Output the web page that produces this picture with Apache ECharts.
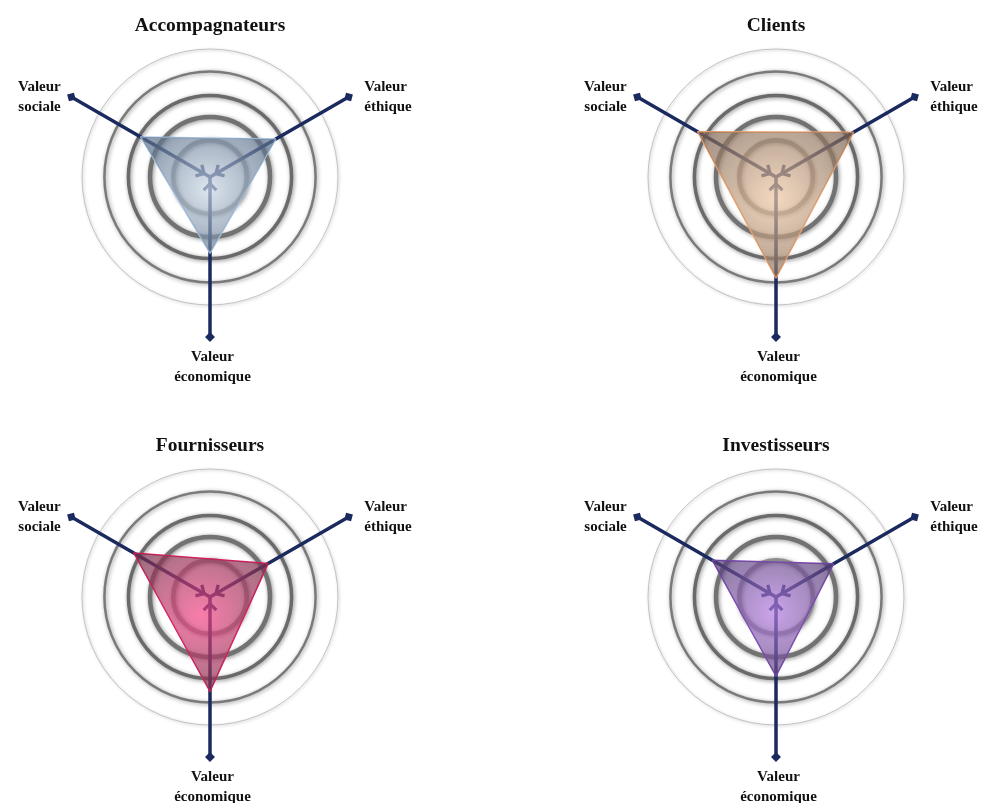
<!DOCTYPE html>
<html><head><meta charset="utf-8">
<script src="https://cdn.jsdelivr.net/npm/echarts@6/dist/echarts.min.js"></script>
<style>html,body{margin:0;padding:0;background:#fff}#c{width:983px;height:803px}</style>
</head><body><div id="c"></div>
<script>
// ---- data ----
const titles = ['Accompagnateurs', 'Clients', 'Fournisseurs', 'Investisseurs'];
const indicatorNames = ['Valeur\néthique', 'Valeur\nsociale', 'Valeur\néconomique'];
const valeurEthique    = [4.75, 5.6, 4.2, 4.15];
const valeurSociale    = [5.0, 5.65, 5.5, 4.6];
const valeurEconomique = [4.75, 6.3, 5.9, 4.95];
const axisMax = 10;
const ringLevels = [2.3, 3.75, 5.1, 6.6, 8.0];

// ---- layout & style ----
const centers = [[210, 177], [776, 177], [210, 597], [776, 597]];
const R = 160;
const navy = '#1b2a5e';
const serif = '"Liberation Serif", "DejaVu Serif", serif';
const palettes = [
  {stroke: '#a9c6e6', inner: 'rgba(205,218,232,0.7)', outer: 'rgba(95,115,140,0.7)'},
  {stroke: '#f4a46c', inner: 'rgba(238,200,165,0.7)', outer: 'rgba(130,105,85,0.7)'},
  {stroke: '#e3175b', inner: 'rgba(245,70,135,0.7)', outer: 'rgba(120,50,75,0.7)'},
  {stroke: '#7a46b4', inner: 'rgba(180,125,225,0.7)', outer: 'rgba(90,65,120,0.7)'}
];
const ringStyles = [
  {stroke: '#8c8c8c', lineWidth: 4.5, shadowBlur: 4, shadowColor: 'rgba(0,0,0,0.45)'},
  {stroke: '#727272', lineWidth: 4.5, shadowBlur: 4, shadowColor: 'rgba(0,0,0,0.45)'},
  {stroke: '#6a6a6a', lineWidth: 3.5, shadowBlur: 4, shadowColor: 'rgba(0,0,0,0.45)'},
  {stroke: '#7a7a7a', lineWidth: 2.5, shadowBlur: 4, shadowColor: 'rgba(0,0,0,0.4)'},
  {stroke: '#c4c4c4', lineWidth: 1, shadowBlur: 3, shadowColor: 'rgba(0,0,0,0.25)'}
];
// symbols drawn in a 16x16 box; corner points only fix the box
const chevron = 'path://M8,0.5 L15.5,8 L13.2,10.3 L8,5.1 L2.8,10.3 L0.5,8 Z M0,0 L0.01,0 M16,16 L16,16.01';
const diamond = 'path://M8,3 L13,8 L8,13 L3,8 Z M0,0 L0.01,0 M16,16 L16,16.01';

const radars = [], series = [], graphics = [], titleOpts = [];
centers.forEach((c, i) => {
  titleOpts.push({
    text: titles[i], left: c[0] - 5, top: c[1] - 166, textAlign: 'center',
    textStyle: {fontFamily: serif, fontWeight: 'bold', fontSize: 19.5, color: '#111'}
  });
  ringLevels.forEach((lv, k) => {
    graphics.push({
      type: 'circle', silent: true, z: -1,
      shape: {cx: c[0], cy: c[1], r: lv * R / axisMax},
      style: Object.assign({fill: 'none', shadowOffsetX: 1, shadowOffsetY: 1}, ringStyles[k])
    });
  });
  radars.push({
    center: c, radius: R, startAngle: 30, shape: 'circle',
    indicator: indicatorNames.map(n => ({name: n, min: 0, max: axisMax})),
    axisName: {
      color: '#111', fontFamily: serif, fontWeight: 'bold', fontSize: 15, lineHeight: 20,
      padding: [0, 2, 0, 7],
      formatter: (name) => name.indexOf('économique') >= 0 ? name : '{g| }\n' + name,
      rich: {g: {fontSize: 1, lineHeight: 10}}
    },
    axisNameGap: 10,
    splitLine: {show: false}, splitArea: {show: false},
    axisTick: {show: false}, axisLabel: {show: false},
    axisLine: {
      show: true, symbol: [chevron, diamond], symbolSize: [16, 16], symbolOffset: [12, 0],
      lineStyle: {color: navy, width: 3.5}
    }
  });
  const p = palettes[i];
  series.push({
    type: 'radar', radarIndex: i, symbol: 'none', silent: true,
    lineStyle: {color: p.stroke, width: 1.5},
    areaStyle: {
      opacity: 1,
      color: {type: 'radial', x: 0.5, y: 0.45, r: 0.6,
        colorStops: [{offset: 0, color: p.inner}, {offset: 1, color: p.outer}]}
    },
    data: [{value: [valeurEthique[i], valeurSociale[i], valeurEconomique[i]], name: titles[i]}]
  });
});

const chart = echarts.init(document.getElementById('c'));
chart.setOption({
  backgroundColor: '#fff',
  animation: false,
  title: titleOpts,
  radar: radars,
  series: series,
  graphic: graphics
});
</script></body></html>
